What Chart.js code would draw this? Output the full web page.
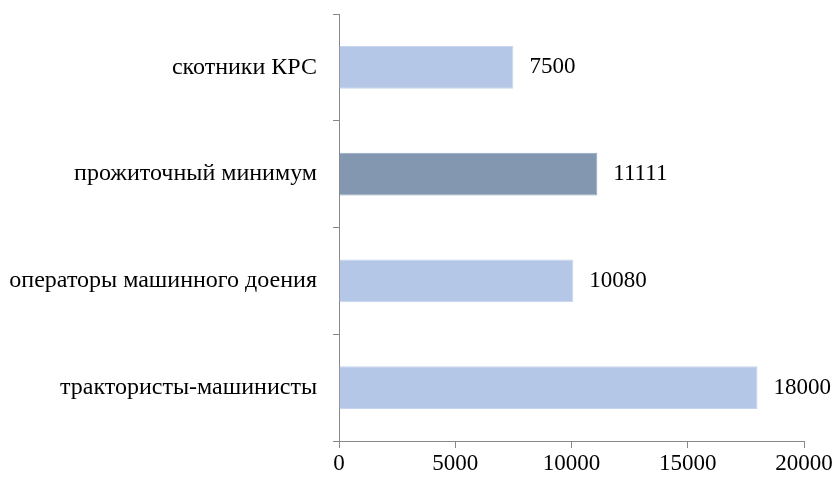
<!DOCTYPE html>
<html lang="ru">
<head>
    <meta charset="UTF-8" />
    <title>Chart</title>
    <script src="https://cdn.jsdelivr.net/npm/chart.js"></script>
    <style>
        html, body { margin: 0; padding: 0; background: #fff; }
        #wrap { width: 838px; height: 479px; }
    </style>
</head>
<body>
    <div id="wrap"><canvas id="chart" width="838" height="479"></canvas></div>
    <script>
        const categories = ['скотники КРС', 'прожиточный минимум', 'операторы машинного доения', 'трактористы-машинисты'];
        const values = [7500, 11111, 10080, 18000];
        const barColors = ['#B4C7E7', '#8497B0', '#B4C7E7', '#B4C7E7'];
        const barEdges = ['#C6D4EE', '#94A5BC', '#C6D4EE', '#C6D4EE'];
        const xTicks = [0, 5000, 10000, 15000, 20000];

        const axisColor = '#888888';
        const family = '"Liberation Serif", "Times New Roman", serif';
        const labelFont = { family: family, size: 24 };
        const tickFont = { family: family, size: 23 };

        // value labels to the right of each bar
        const valueLabels = {
            id: 'valueLabels',
            afterDatasetsDraw(chart) {
                const ctx = chart.ctx;
                const meta = chart.getDatasetMeta(0);
                ctx.save();
                ctx.font = tickFont.size + 'px ' + family;
                ctx.fillStyle = '#000';
                ctx.textAlign = 'left';
                ctx.textBaseline = 'middle';
                meta.data.forEach((bar, i) => {
                    ctx.fillText(String(values[i]), bar.x + 16, bar.y);
                });
                ctx.restore();
            }
        };

        new Chart(document.getElementById('chart'), {
            type: 'bar',
            data: {
                labels: categories,
                datasets: [{
                    data: values,
                    backgroundColor: barColors,
                    borderColor: barEdges,
                    borderWidth: 1,
                    barPercentage: 0.4,
                    categoryPercentage: 1
                }]
            },
            options: {
                indexAxis: 'y',
                responsive: false,
                animation: false,
                layout: { padding: { top: 14, right: 34, left: 0, bottom: 0 } },
                plugins: { legend: { display: false }, tooltip: { enabled: false } },
                scales: {
                    x: {
                        min: 0,
                        max: 20000,
                        afterBuildTicks(axis) { axis.ticks = xTicks.map(v => ({ value: v })); },
                        afterFit(axis) { axis.height = 38; axis.paddingLeft = 0; axis.paddingRight = 0; },
                        border: { color: axisColor, width: 1 },
                        grid: { drawOnChartArea: false, tickLength: 7, color: axisColor },
                        ticks: { font: tickFont, color: '#000', padding: 2, maxRotation: 0,
                                 callback: v => String(v) }
                    },
                    y: {
                        afterFit(axis) { axis.width = 339; axis.paddingTop = 0; axis.paddingBottom = 0; },
                        border: { color: axisColor, width: 1 },
                        grid: { drawOnChartArea: false, tickLength: 6, color: axisColor, offset: true },
                        ticks: { font: labelFont, color: '#000', padding: 16 }
                    }
                }
            },
            plugins: [valueLabels]
        });
    </script>
</body>
</html>
